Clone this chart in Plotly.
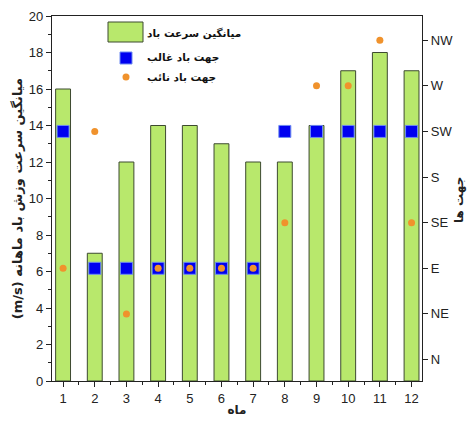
import plotly.graph_objects as go

months = [1, 2, 3, 4, 5, 6, 7, 8, 9, 10, 11, 12]
wind_speed = [16, 7, 12, 14, 14, 13, 12, 12, 14, 17, 18, 17]
directions = ["N", "NE", "E", "SE", "S", "SW", "W", "NW"]
prevailing_dir = ["SW", "E", "E", "E", "E", "E", "E", "SW", "SW", "SW", "SW", "SW"]
secondary_dir = ["E", "SW", "NE", "E", "E", "E", "E", "SE", "W", "W", "NW", "SE"]

name_speed = "میانگین سرعت باد"
name_prev = "جهت باد غالب"
name_sec = "جهت باد نائب"

GREEN = "#b8e86c"
BLUE = "#0000f0"
ORANGE = "#f0922c"
FA_FONT = "DejaVu Sans"

fig = go.Figure()
fig.add_trace(go.Bar(
    x=months, y=wind_speed, width=0.47, name=name_speed,
    marker=dict(color=GREEN, line=dict(color="#3d4a30", width=1)),
    showlegend=False,
))
fig.add_trace(go.Scatter(
    x=months, y=prevailing_dir, yaxis="y2", mode="markers", name=name_prev,
    marker=dict(symbol="square", size=12, color=BLUE, line=dict(color="#6f8cf0", width=1)),
    showlegend=False,
))
fig.add_trace(go.Scatter(
    x=months, y=secondary_dir, yaxis="y2", mode="markers", name=name_sec,
    marker=dict(symbol="circle", size=7, color=ORANGE),
    showlegend=False,
))

axis_common = dict(
    showline=True, linecolor="#222", linewidth=1.3,
    ticks="outside", ticklen=5, tickcolor="#222", tickwidth=1.3,
    tickfont=dict(family="Liberation Sans, Arial", size=13, color="#222"),
    showgrid=False, zeroline=False, automargin=False,
)

fig.update_layout(
    width=472, height=421,
    margin=dict(l=52, r=50, t=16, b=40),
    plot_bgcolor="white", paper_bgcolor="white",
    xaxis=dict(
        **axis_common, range=[0.65, 12.33], tickvals=months, mirror=True,
        minor=dict(ticks="outside", ticklen=3, tickcolor="#222", dtick=0.5, tick0=0.5),
        title=dict(text="<b>ماه</b>", font=dict(family=FA_FONT, size=12, color="#222"), standoff=0),
    ),
    yaxis=dict(
        **axis_common, range=[0, 20], dtick=2, mirror=True,
        minor=dict(ticks="outside", ticklen=3, tickcolor="#222", dtick=1),
        title=dict(text="<b>\u202bمیانگین سرعت وزش باد ماهانه (m/s)\u202c</b>",
                   font=dict(family=FA_FONT, size=13, color="#222"), standoff=3),
    ),
    yaxis2=dict(
        **axis_common, overlaying="y", side="right", type="category",
        categoryarray=directions, categoryorder="array", range=[-0.47, 7.53],
    ),
    showlegend=False,
)

# right axis title
fig.add_annotation(text="<b>جهت ها</b>", xref="paper", yref="paper",
                   x=(459 - 52) / 370, y=(381 - 200) / 365, textangle=-90,
                   xanchor="center", yanchor="middle", showarrow=False,
                   font=dict(family=FA_FONT, size=12, color="#222"))

# manual legend (matches the original's wide swatch)
fig.add_shape(type="rect", xref="paper", yref="paper",
              x0=(108 - 52) / 370, x1=(143 - 52) / 370,
              y0=(381 - 42) / 365, y1=(381 - 22) / 365,
              fillcolor=GREEN, line=dict(color="#3d4a30", width=1))
fig.add_trace(go.Scatter(x=[(126 - 52) / 370], y=[(381 - 58) / 365], xaxis="x3", yaxis="y3",
                         mode="markers", marker=dict(symbol="square", size=12, color=BLUE,
                         line=dict(color="#6f8cf0", width=1)), showlegend=False, hoverinfo="skip"))
fig.add_trace(go.Scatter(x=[(126 - 52) / 370], y=[(381 - 77) / 365], xaxis="x3", yaxis="y3",
                         mode="markers", marker=dict(symbol="circle", size=7, color=ORANGE),
                         showlegend=False, hoverinfo="skip"))
fig.update_layout(
    xaxis3=dict(range=[0, 1], visible=False, overlaying="x", domain=[0, 1]),
    yaxis3=dict(range=[0, 1], visible=False, overlaying="y", anchor="x3"),
)
for txt, ypix in [(name_speed, 33), (name_prev, 58), (name_sec, 77)]:
    fig.add_annotation(text="<b>" + txt + "</b>", xref="paper", yref="paper",
                       x=(145 - 52) / 370, y=(381 - ypix) / 365,
                       xanchor="left", yanchor="middle", showarrow=False,
                       font=dict(family=FA_FONT, size=10.5, color="#111"))

fig.write_html(
    "out.html",
    config={"displayModeBar": False},
    post_script="document.body.style.margin='0';document.body.style.padding='0';",
)
